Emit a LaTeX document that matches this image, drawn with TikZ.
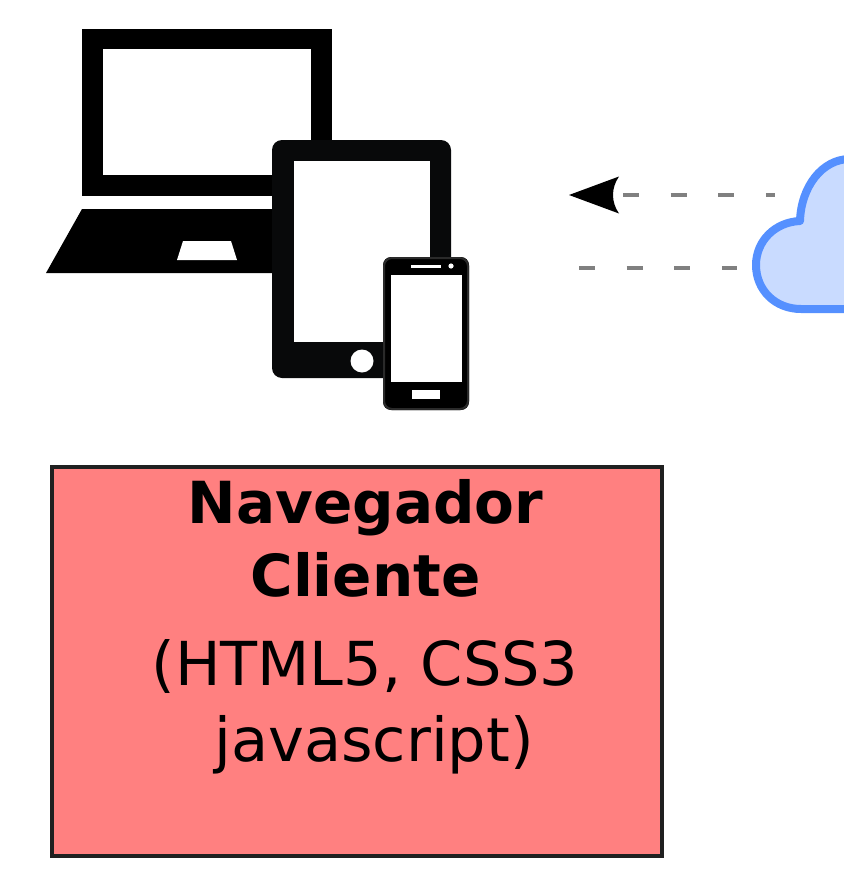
\documentclass[tikz,border=0pt]{standalone}
\usepackage{fontspec}
\setmainfont{DejaVu Sans}
\definecolor{tabletink}{RGB}{8,9,10}
\definecolor{phoneedge}{RGB}{42,42,42}
\tikzset{
  x=1pt,y=-1pt,
  ink/.style={fill=black,draw=none},
  hole/.style={fill=white,draw=none},
  flow/.style={draw=black!50,line width=3.6pt,dash pattern=on 16pt off 31.6pt},
  boxlabel/.style={anchor=base,inner sep=0pt,text=black},
}
\begin{document}
\begin{tikzpicture}
\useasboundingbox (0,0) rectangle (843,891);
% laptop
\fill[ink] (82,29) rectangle (332,196);
\fill[hole] (103,49) rectangle (311,175);
\fill[ink] (82,209) -- (290,209) -- (290,273) -- (46,273) -- cycle;
\fill[hole] (183,241) -- (231,241) -- (237,260) -- (177,260) -- cycle;
% tablet
\fill[fill=tabletink,rounded corners=10pt] (272,140) rectangle (451,378);
\fill[hole] (294,161) rectangle (430,342);
\fill[hole] (362,361) circle (11.5);
% phone
\fill[fill=black,rounded corners=8pt] (383,257) rectangle (469,410);
\draw[phoneedge,line width=2pt,rounded corners=8pt] (384,258) rectangle (468,409);
\fill[hole] (391,275) rectangle (462,382);
\fill[hole] (411,264.5) rectangle (441,267.5);
\fill[hole] (451,266) circle (2.6);
\fill[hole] (412,390) rectangle (440,399);
% connectors
\coordinate (upS) at (774.5,195);
\coordinate (upE) at (623,195);
\coordinate (loS) at (737,268);
\coordinate (loE) at (579,268);
\draw[flow] (upE) -- (upS);
\draw[flow] (loE) -- (loS);
\fill[ink] (569,195) -- (619,176.5) .. controls (611,188) and (611,202) .. (619,213.5) -- cycle;
% cloud
\path[fill={rgb,255:red,201;green,219;blue,255},draw={rgb,255:red,85;green,144;blue,255},line width=8pt,line join=round]
  (850,309) -- (801,309) .. controls (775,309) and (756,290) .. (756,265)
  .. controls (756,241) and (775,222) .. (800,221)
  .. controls (801,187) and (822,159) .. (850,159) -- (870,159) -- (870,309) -- cycle;
% box
\node[draw={rgb,255:red,32;green,32;blue,32},line width=3.6pt,fill={rgb,255:red,255;green,128;blue,128},
  minimum width=610pt,minimum height=389pt,inner sep=0pt,anchor=north west] (box) at (50,465) {};
\node[boxlabel,font=\fontsize{58}{58}\selectfont\bfseries] (t1) at (365.5,523) {Navegador};
\node[boxlabel,font=\fontsize{58}{58}\selectfont\bfseries] (t2) at (365.5,596) {Cliente};
\node[boxlabel,font=\fontsize{60.6}{60.6}\selectfont] (t3) at (365,685) {(HTML5, CSS3};
\node[boxlabel,font=\fontsize{60.6}{60.6}\selectfont] (t4) at (374,761) {javascript)};
\end{tikzpicture}
\end{document}
